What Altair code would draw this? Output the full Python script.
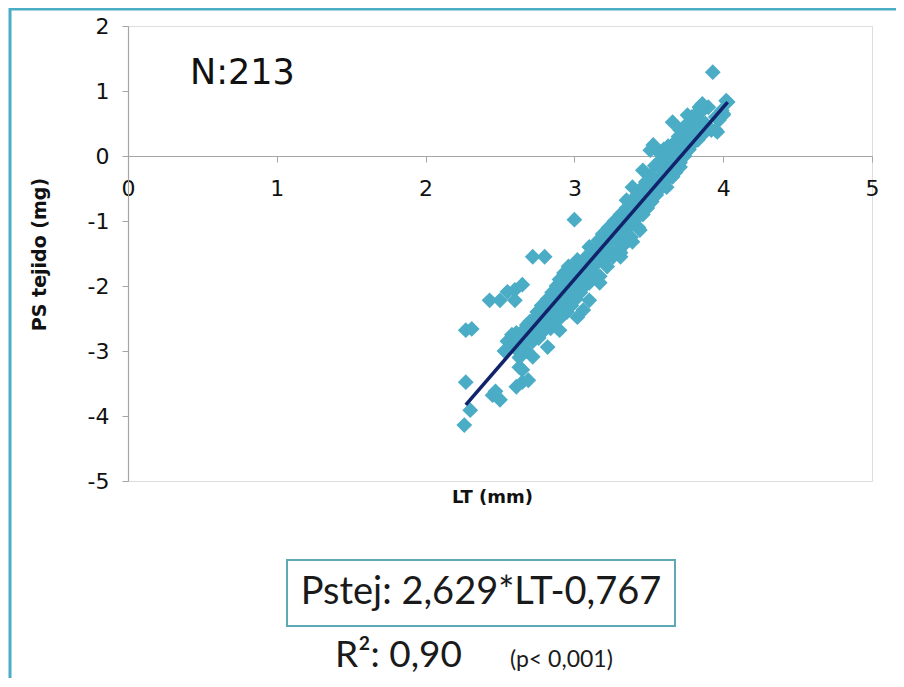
import altair as alt
import pandas as pd

# Scatter data (LT in mm, PS tejido in mg)
lt_mm = [
    2.27, 2.31, 2.27, 2.30, 2.26, 2.45, 2.50, 2.47, 2.43, 2.50,
    2.55, 2.60, 2.65, 2.60, 2.72, 2.80, 3.00, 3.93, 3.66, 2.65,
    2.69, 2.63, 2.53, 2.61, 2.61,
    2.55, 2.58, 2.60, 2.62, 2.63, 2.65, 2.66, 2.68, 2.68, 2.70,
    2.70, 2.72, 2.73, 2.74, 2.75, 2.76, 2.77, 2.78, 2.79, 2.80,
    2.80, 2.82, 2.82, 2.83, 2.84, 2.85, 2.85, 2.86, 2.87, 2.88,
    2.88, 2.89, 2.90, 2.90, 2.91, 2.92, 2.92, 2.93, 2.94, 2.95,
    2.95, 2.96, 2.97, 2.98, 2.98, 3.00, 3.00, 3.01, 3.02, 3.03,
    3.04, 3.05, 3.06, 3.07, 3.08, 3.09, 3.10, 3.10, 3.12, 3.13,
    3.14, 3.15, 3.16, 3.17, 3.18, 3.19, 3.20, 3.21, 3.22, 3.23,
    3.24, 3.25, 3.26, 3.27, 3.28, 3.29, 3.30, 3.31, 3.32, 3.33,
    3.34, 3.35, 3.36, 3.37, 3.38, 3.39, 3.40, 3.41, 3.42, 3.43,
    3.44, 3.45, 3.46, 3.47, 3.48, 3.49, 3.50, 3.51, 3.52, 3.53,
    3.54, 3.55, 3.56, 3.57, 3.58, 3.59, 3.60, 3.61, 3.62, 3.63,
    3.64, 3.65, 3.66, 3.67, 3.68, 3.69, 3.70, 3.71, 3.72, 3.73,
    3.74, 3.75, 3.76, 3.77, 3.78, 3.79, 3.80, 3.81, 3.82, 3.83,
    3.84, 3.86, 3.87, 3.88, 3.90, 3.92, 3.95, 3.97, 3.99, 4.02,
    4.00,
    3.84, 3.86, 3.76, 3.96, 4.00, 3.71, 3.53, 3.51, 3.73, 3.58,
    3.46, 3.39, 3.35, 3.71, 3.66, 3.62, 3.51, 4.03, 3.95,
    3.37, 3.31, 3.17, 3.10, 3.06, 3.02, 2.90, 2.82, 2.72, 2.65,
    3.44, 3.39, 3.31,
]
ps_mg = [
    -2.68, -2.66, -3.48, -3.91, -4.14, -3.68, -3.75, -3.62, -2.22, -2.22,
    -2.09, -2.06, -1.98, -2.22, -1.55, -1.55, -0.98, 1.29, 0.52, -3.48,
    -3.45, -3.25, -3.00, -2.72, -3.55,
    -2.85, -2.75, -2.95, -2.80, -3.10, -2.70, -2.90, -2.60, -3.00, -2.75,
    -2.55, -2.85, -2.50, -2.65, -2.40, -2.80, -2.55, -2.30, -2.70, -2.45,
    -2.60, -2.20, -2.50, -2.35, -2.65, -2.10, -2.45, -2.30, -2.55, -2.00,
    -2.40, -2.20, -2.50, -1.90, -2.30, -2.10, -2.45, -1.80, -2.25, -2.00,
    -2.40, -1.70, -2.15, -1.90, -2.30, -1.75, -2.05, -2.20, -1.60, -1.90,
    -2.10, -1.70, -1.85, -2.00, -1.55, -1.75, -1.40, -1.95, -1.60, -1.80,
    -1.45, -1.65, -1.30, -1.85, -1.50, -1.20, -1.60, -1.35, -1.70, -1.10,
    -1.45, -1.25, -1.55, -1.00, -1.30, -1.15, -1.45, -0.90, -1.20, -1.05,
    -1.35, -0.80, -1.10, -0.95, -1.25, -0.70, -1.00, -0.85, -0.60, -1.10,
    -0.75, -0.50, -0.90, -0.65, -0.40, -0.80, -0.55, -0.30, -0.70, -0.45,
    -0.15, -0.60, -0.35, 0.05, -0.50, -0.20, 0.10, -0.40, -0.05, 0.15,
    -0.30, 0.00, -0.15, 0.20, -0.25, 0.05, 0.30, -0.10, 0.15, 0.40,
    0.00, 0.25, 0.50, 0.10, 0.35, 0.60, 0.20, 0.45, 0.65, 0.25,
    0.55, 0.70, 0.35, 0.50, 0.75, 0.40, 0.60, 0.55, 0.70, 0.85,
    0.65,
    0.75, 0.80, 0.63, 0.37, 0.63, 0.40, 0.17, 0.09, 0.14, -0.06,
    -0.22, -0.48, -0.68, -0.17, -0.32, -0.48, -0.72, 0.83, 0.40,
    -1.29, -1.49, -1.95, -2.22, -2.37, -2.48, -2.68, -2.94, -3.09, -3.29,
    -1.14, -1.32, -1.55,
]

# Trend line end points
trend_x = [2.27, 4.03]
trend_y = [-3.83, 0.83]

x_ticks = [0, 1, 2, 3, 4, 5]
y_ticks = [2, 1, 0, -1, -2, -3, -4, -5]

n_label = "N:213"
equation = "Pstej: 2,629*LT-0,767"
r2_label = "R²: 0,90"
p_label = "(p< 0,001)"

pts = pd.DataFrame({"LT": lt_mm, "PS": ps_mg})
trend = pd.DataFrame({"LT": trend_x, "PS": trend_y})

W, H = 744, 455
GREY = "#a6a6a6"
TEAL = "#4bacc6"

xscale = alt.Scale(domain=[0, 5], nice=False)
yscale = alt.Scale(domain=[-5, 2], nice=False)

x_axis = alt.Axis(
    orient="bottom", offset=-325, values=x_ticks, grid=False,
    labelExpr="'' + datum.value",
    tickSize=6, tickColor=GREY, domainColor=GREY, domainWidth=1.2,
    labelFont="DejaVu Sans", labelFontSize=22, labelColor="#111111",
    labelPadding=16, labelFlush=False,
    title="LT (mm)", titleFont="DejaVu Sans", titleFontSize=18,
    titleFontWeight="bold", titleColor="#111111",
    titleX=364, titleY=341, titleBaseline="middle",
)
y_axis = alt.Axis(
    orient="left", values=y_ticks, grid=False,
    labelExpr="'' + datum.value",
    tickSize=6, tickColor=GREY, domainColor=GREY, domainWidth=1.2,
    labelFont="DejaVu Sans", labelFontSize=22, labelColor="#111111",
    labelPadding=13, labelFlush=False,
    title="PS tejido (mg)", titleFont="DejaVu Sans", titleFontSize=19,
    titleFontWeight="bold", titleColor="#111111",
    titleX=-89, titleY=228, titleBaseline="middle", titleAlign="center",
)

one = alt.Data(values=[{"k": 1}])

frame = alt.Chart(one).mark_rect(
    fill=None, stroke=TEAL, strokeWidth=3
).encode(
    x=alt.value(-118), x2=alt.value(800), y=alt.value(-17), y2=alt.value(700)
)

scatter = alt.Chart(pts).mark_point(
    shape="diamond", filled=True, size=250, color=TEAL, opacity=1
).encode(
    x=alt.X("LT:Q", scale=xscale, axis=x_axis),
    y=alt.Y("PS:Q", scale=yscale, axis=y_axis),
)

line = alt.Chart(trend).mark_line(color="#10236b", strokeWidth=3.5).encode(
    x=alt.X("LT:Q", scale=xscale),
    y=alt.Y("PS:Q", scale=yscale),
)

n_text = alt.Chart(one).mark_text(
    text=n_label, font="DejaVu Sans", fontSize=35, align="left",
    baseline="middle", color="#111111"
).encode(x=alt.value(62), y=alt.value(47))

box = alt.Chart(one).mark_rect(
    fill="white", stroke="#5ea9b3", strokeWidth=2
).encode(x=alt.value(159), x2=alt.value(547), y=alt.value(534), y2=alt.value(600))

eq_text = alt.Chart(one).mark_text(
    text=equation, font="Lato", fontSize=38, align="center",
    baseline="middle", color="#1a1a1a"
).encode(x=alt.value(353), y=alt.value(567))

r2_text = alt.Chart(one).mark_text(
    text=r2_label, font="Lato", fontSize=37, align="left",
    baseline="middle", color="#1a1a1a"
).encode(x=alt.value(207), y=alt.value(630))

p_text = alt.Chart(one).mark_text(
    text=p_label, font="Lato", fontSize=23, align="left",
    baseline="middle", color="#1a1a1a"
).encode(x=alt.value(382), y=alt.value(634))

chart = alt.layer(
    frame, scatter, line, n_text, box, eq_text, r2_text, p_text
).properties(
    width=W, height=H,
    autosize=alt.AutoSizeParams(type="none"),
    padding={"left": 120, "top": 18, "right": 24, "bottom": 197},
).configure_view(stroke=None).configure(background="white")

chart.save("out.html", embed_options={"renderer": "svg", "actions": False})
